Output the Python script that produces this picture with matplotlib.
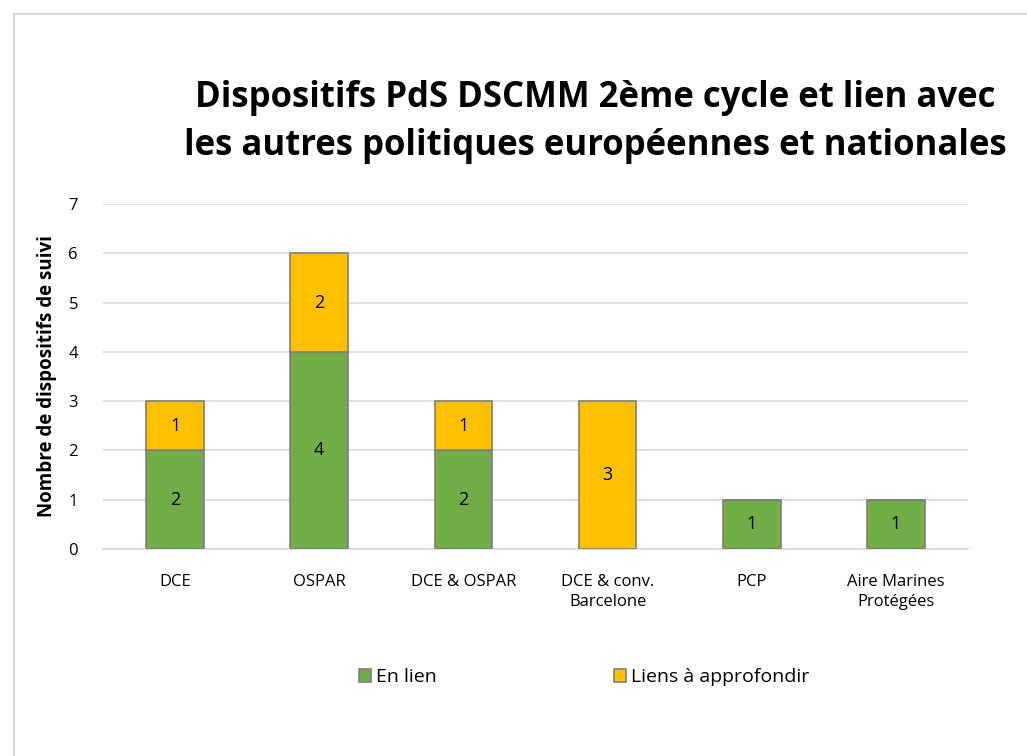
import matplotlib.pyplot as plt
import matplotlib.patches as mpatches
import numpy as np

plt.rcParams['font.family'] = ['Open Sans', 'DejaVu Sans']

categories = ['DCE', 'OSPAR', 'DCE & OSPAR', 'DCE & conv.\nBarcelone', 'PCP',
              'Aire Marines\nProtégées']
en_lien = [2, 4, 2, 0, 1, 1]
a_approfondir = [1, 2, 1, 3, 0, 0]
series_names = ['En lien', 'Liens à approfondir']

green = '#70AD47'
yellow = '#FFC000'
edge = '#7F7F7F'

fig = plt.figure(figsize=(10.27, 7.56), dpi=100)
# outer chart border (runs off the right and bottom edges like the original)
fig.patches.append(mpatches.Rectangle((14 / 1027, -10 / 756), 1030 / 1027, 752 / 756,
                                      transform=fig.transFigure, fill=False,
                                      edgecolor='#D9D9D9', lw=1.5))

ax = fig.add_axes([103 / 1027, 1 - 549 / 756, 865 / 1027, 345 / 756])
x = np.arange(len(categories))
w = 0.40
b1 = ax.bar(x, en_lien, w, color=green, edgecolor=edge, lw=1.2, zorder=3,
            label=series_names[0])
b2 = ax.bar(x, a_approfondir, w, bottom=en_lien, color=yellow, edgecolor=edge,
            lw=1.2, zorder=3, label=series_names[1])

for i in range(len(categories)):
    if en_lien[i] > 0:
        ax.text(x[i], en_lien[i] / 2, str(en_lien[i]), ha='center', va='center',
                fontsize=13, zorder=4)
    if a_approfondir[i] > 0:
        ax.text(x[i], en_lien[i] + a_approfondir[i] / 2, str(a_approfondir[i]),
                ha='center', va='center', fontsize=13, zorder=4)

ax.set_xlim(-0.5, len(categories) - 0.5)
ax.set_ylim(0, 7)
ax.set_yticks(range(8))
ax.yaxis.grid(True, color='#D9D9D9', lw=1.2, zorder=0)
ax.set_axisbelow(True)
for s in ['top', 'right', 'left']:
    ax.spines[s].set_visible(False)
ax.spines['bottom'].set_color('#D9D9D9')
ax.spines['bottom'].set_linewidth(1.2)
ax.tick_params(length=0, labelsize=12, colors='#000000')
ax.tick_params(axis='y', pad=18)
ax.tick_params(axis='x', pad=18)
ax.set_xticks(x)
ax.set_xticklabels(categories, linespacing=1.35)
ax.set_ylabel('Nombre de dispositifs de suivi', fontsize=13.5, fontweight='bold',
              labelpad=8)

fig.text(595 / 1027, 1 - 122 / 756,
         'Dispositifs PdS DSCMM 2ème cycle et lien avec\nles autres politiques européennes et nationales',
         ha='center', va='center', fontsize=25, fontweight='bold', linespacing=1.42)

fig.legend(handles=[b1, b2], labels=series_names, loc='center',
           bbox_to_anchor=(584 / 1027, 1 - 677 / 756), ncol=2, frameon=False,
           fontsize=14, handlelength=0.65, handleheight=0.65, handletextpad=0.25,
           columnspacing=9.1)

fig.savefig('out.png', dpi=100)
